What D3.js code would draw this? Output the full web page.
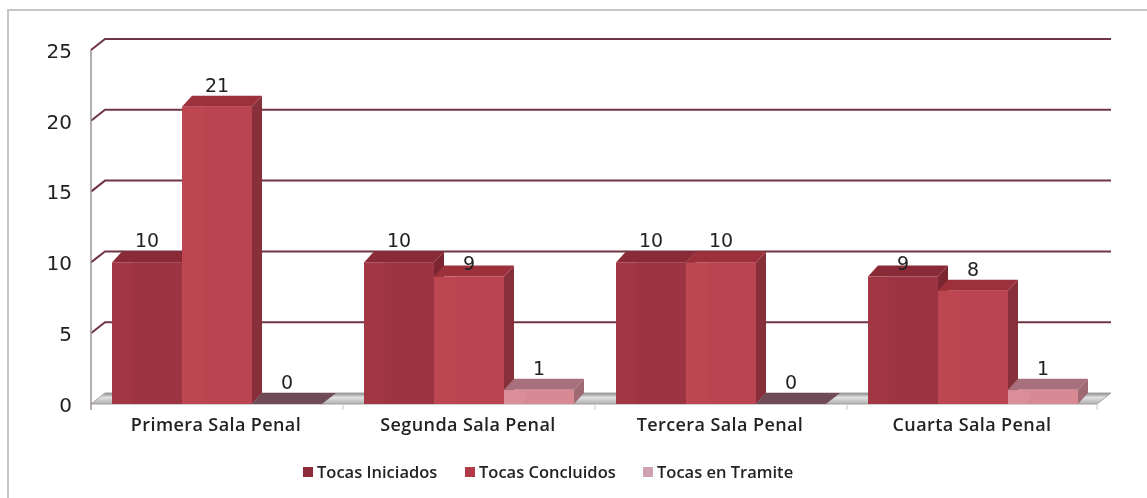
<!DOCTYPE html>
<html>
<head>
<meta charset="utf-8">
<script src="https://cdn.jsdelivr.net/npm/d3@7"></script>
<style>
  html, body { margin: 0; padding: 0; background: #fff; overflow: hidden; }
  svg { display: block; filter: blur(0.7px); }
  text { fill: #222; }
</style>
</head>
<body>
<div id="chart"></div>
<script>
var categories = ["Primera Sala Penal", "Segunda Sala Penal", "Tercera Sala Penal", "Cuarta Sala Penal"];
var seriesNames = ["Tocas Iniciados", "Tocas Concluidos", "Tocas en Tramite"];
var tocasIniciados = [10, 10, 10, 9];
var tocasConcluidos = [21, 9, 10, 8];
var tocasTramite = [0, 1, 0, 1];
var yTicks = [0, 5, 10, 15, 20, 25];

var w = 1147, h = 498;
var wallX = 14, wallY = 11;   // depth of the back wall
var barX = 10, barY = 11;     // depth of a column

var colors = [
  { front: "#a13743", dark: "#9a323f", side: "#7b2630", top: "#8a2a36" },
  { front: "#bd4651", dark: "#b8424d", side: "#87303a", top: "#9c303b" },
  { front: "#d98e99", dark: "#d5858f", side: "#a06a75", top: "#a8707d" }
];

var svg = d3.select("#chart").append("svg").attr("width", w).attr("height", h);

var x0 = d3.scaleBand().domain(categories).range([91, 1099]);
var x1 = d3.scaleBand().domain(seriesNames).range([21, 231]);
var y = d3.scaleLinear().domain([0, 25]).range([404, 50]);

// frame
svg.append("path")
  .attr("d", "M8,498V10H" + w)
  .attr("fill", "none").attr("stroke", "#c6c6c6").attr("stroke-width", 2);

// floor
var defs = svg.append("defs");
var floorGrad = defs.append("linearGradient").attr("id", "floorGrad")
  .attr("x1", 0).attr("x2", 0).attr("y1", 0).attr("y2", 1);
floorGrad.append("stop").attr("offset", 0).attr("stop-color", "#8a8a8a");
floorGrad.append("stop").attr("offset", 0.4).attr("stop-color", "#e2e2e2");
floorGrad.append("stop").attr("offset", 1).attr("stop-color", "#b0b0b0");

var x0Start = x0.range()[0], x0End = x0.range()[1];
svg.append("path")
  .attr("d", "M" + x0Start + "," + y(0) + "L" + (x0Start + wallX) + "," + (y(0) - wallY) +
             "H" + (x0End + wallX - 2) + "L" + (x0End - 2) + "," + y(0) + "Z")
  .attr("fill", "url(#floorGrad)").attr("stroke", "#a9a0a0").attr("stroke-width", 1);

// gridlines on the back wall, the 0 line is the floor
svg.selectAll(".grid")
  .data(yTicks.filter(function(d) { return d > 0; }))
  .enter().append("path")
  .attr("class", "grid")
  .attr("fill", "none")
  .attr("stroke", "#6f3542")
  .attr("stroke-width", 2)
  .attr("d", function(d) {
    return "M" + x0Start + "," + y(d) + "l" + wallX + "," + (-wallY) + "H" + (x0End + wallX - 2);
  });

// left wall edge
svg.append("line")
  .attr("x1", x0Start).attr("x2", x0Start)
  .attr("y1", y(25)).attr("y2", y(0) + 6)
  .attr("stroke", "#9b9595").attr("stroke-width", 1.5);

// category ticks under the floor
svg.selectAll(".catTick")
  .data(categories.slice(1).concat(["end"]))
  .enter().append("line")
  .attr("class", "catTick")
  .attr("x1", function(d) { return d === "end" ? x0End - 2 : x0(d); })
  .attr("x2", function(d) { return d === "end" ? x0End - 2 : x0(d); })
  .attr("y1", y(0)).attr("y2", y(0) + 6)
  .attr("stroke", "#cbc7c7").attr("stroke-width", 1);

// columns, left to right so each one covers the side of the last
var seriesValues = [tocasIniciados, tocasConcluidos, tocasTramite];
var bars = [];
categories.forEach(function(c, i) {
  seriesNames.forEach(function(s, j) {
    bars.push({ cat: c, series: s, idx: j, value: seriesValues[j][i] });
  });
});

var bw = x1.bandwidth();
var barGroup = svg.selectAll(".bar")
  .data(bars)
  .enter().append("g")
  .attr("class", "bar")
  .attr("transform", function(d) { return "translate(" + (x0(d.cat) + x1(d.series)) + ",0)"; });

barGroup.filter(function(d) { return d.value > 0; }).each(function(d) {
  var g = d3.select(this);
  var c = colors[d.idx];
  var t = y(d.value), b = y(0);
  g.append("path")
    .attr("d", "M" + bw + "," + t + "l" + barX + "," + (-barY) + "V" + (b - barY) + "L" + bw + "," + b + "Z")
    .attr("fill", c.side);
  g.append("path")
    .attr("d", "M0," + t + "l" + barX + "," + (-barY) + "H" + (bw + barX) + "L" + bw + "," + t + "Z")
    .attr("fill", c.top);
  g.append("rect")
    .attr("y", t).attr("width", bw).attr("height", b - t)
    .attr("fill", c.front);
  g.append("rect")
    .attr("x", bw * 0.3).attr("y", t).attr("width", bw * 0.7).attr("height", b - t)
    .attr("fill", c.dark).attr("opacity", 0.5);
});

// a zero value still leaves a flat dark plate on the floor
barGroup.filter(function(d) { return d.value === 0; })
  .append("path")
  .attr("d", "M0," + y(0) + "l" + barX + "," + (-barY) + "H" + (bw + barX + 4) + "L" + bw + "," + y(0) + "Z")
  .attr("fill", "#6f4b57");

// value labels, the 9s sit lower in the original
barGroup.append("text")
  .attr("x", bw / 2)
  .attr("y", function(d) { return y(d.value) - barY - 4 + (d.value === 9 ? 8 : 0); })
  .attr("text-anchor", "middle")
  .style("font-family", "'DejaVu Sans'")
  .style("font-size", "19px")
  .text(function(d) { return d.value; });

// y axis
var yAxis = d3.axisLeft(y).tickValues(yTicks).tickSize(0).tickPadding(6);
var yG = svg.append("g").attr("transform", "translate(78,0)").call(yAxis);
yG.select(".domain").remove();
yG.selectAll("text")
  .style("font-family", "'DejaVu Sans'")
  .style("font-size", "20px")
  .style("fill", "#222")
  .attr("dy", "0.36em");

// category labels
svg.selectAll(".catLabel")
  .data(categories)
  .enter().append("text")
  .attr("class", "catLabel")
  .attr("x", function(d) { return x0(d) + x0.bandwidth() / 2 - 1; })
  .attr("y", 431)
  .attr("text-anchor", "middle")
  .style("font-family", "'Open Sans'")
  .style("font-size", "18px")
  .style("font-weight", 600)
  .style("letter-spacing", "0.4px")
  .text(function(d) { return d; });

// legend
var legendX = d3.scaleOrdinal().domain(seriesNames).range([303, 465, 643]);
var legendColors = ["#8f2a38", "#b23a48", "#cfa3ad"];
var legend = svg.selectAll(".legend")
  .data(seriesNames)
  .enter().append("g")
  .attr("class", "legend")
  .attr("transform", function(d) { return "translate(" + legendX(d) + ",472)"; });
legend.append("rect")
  .attr("y", -5).attr("width", 10).attr("height", 10)
  .attr("fill", function(d, i) { return legendColors[i]; });
legend.append("text")
  .attr("x", 14).attr("y", 6)
  .style("font-family", "'Open Sans'")
  .style("font-size", "16.5px")
  .style("font-weight", 600)
  .text(function(d) { return d; });
</script>
</body>
</html>
